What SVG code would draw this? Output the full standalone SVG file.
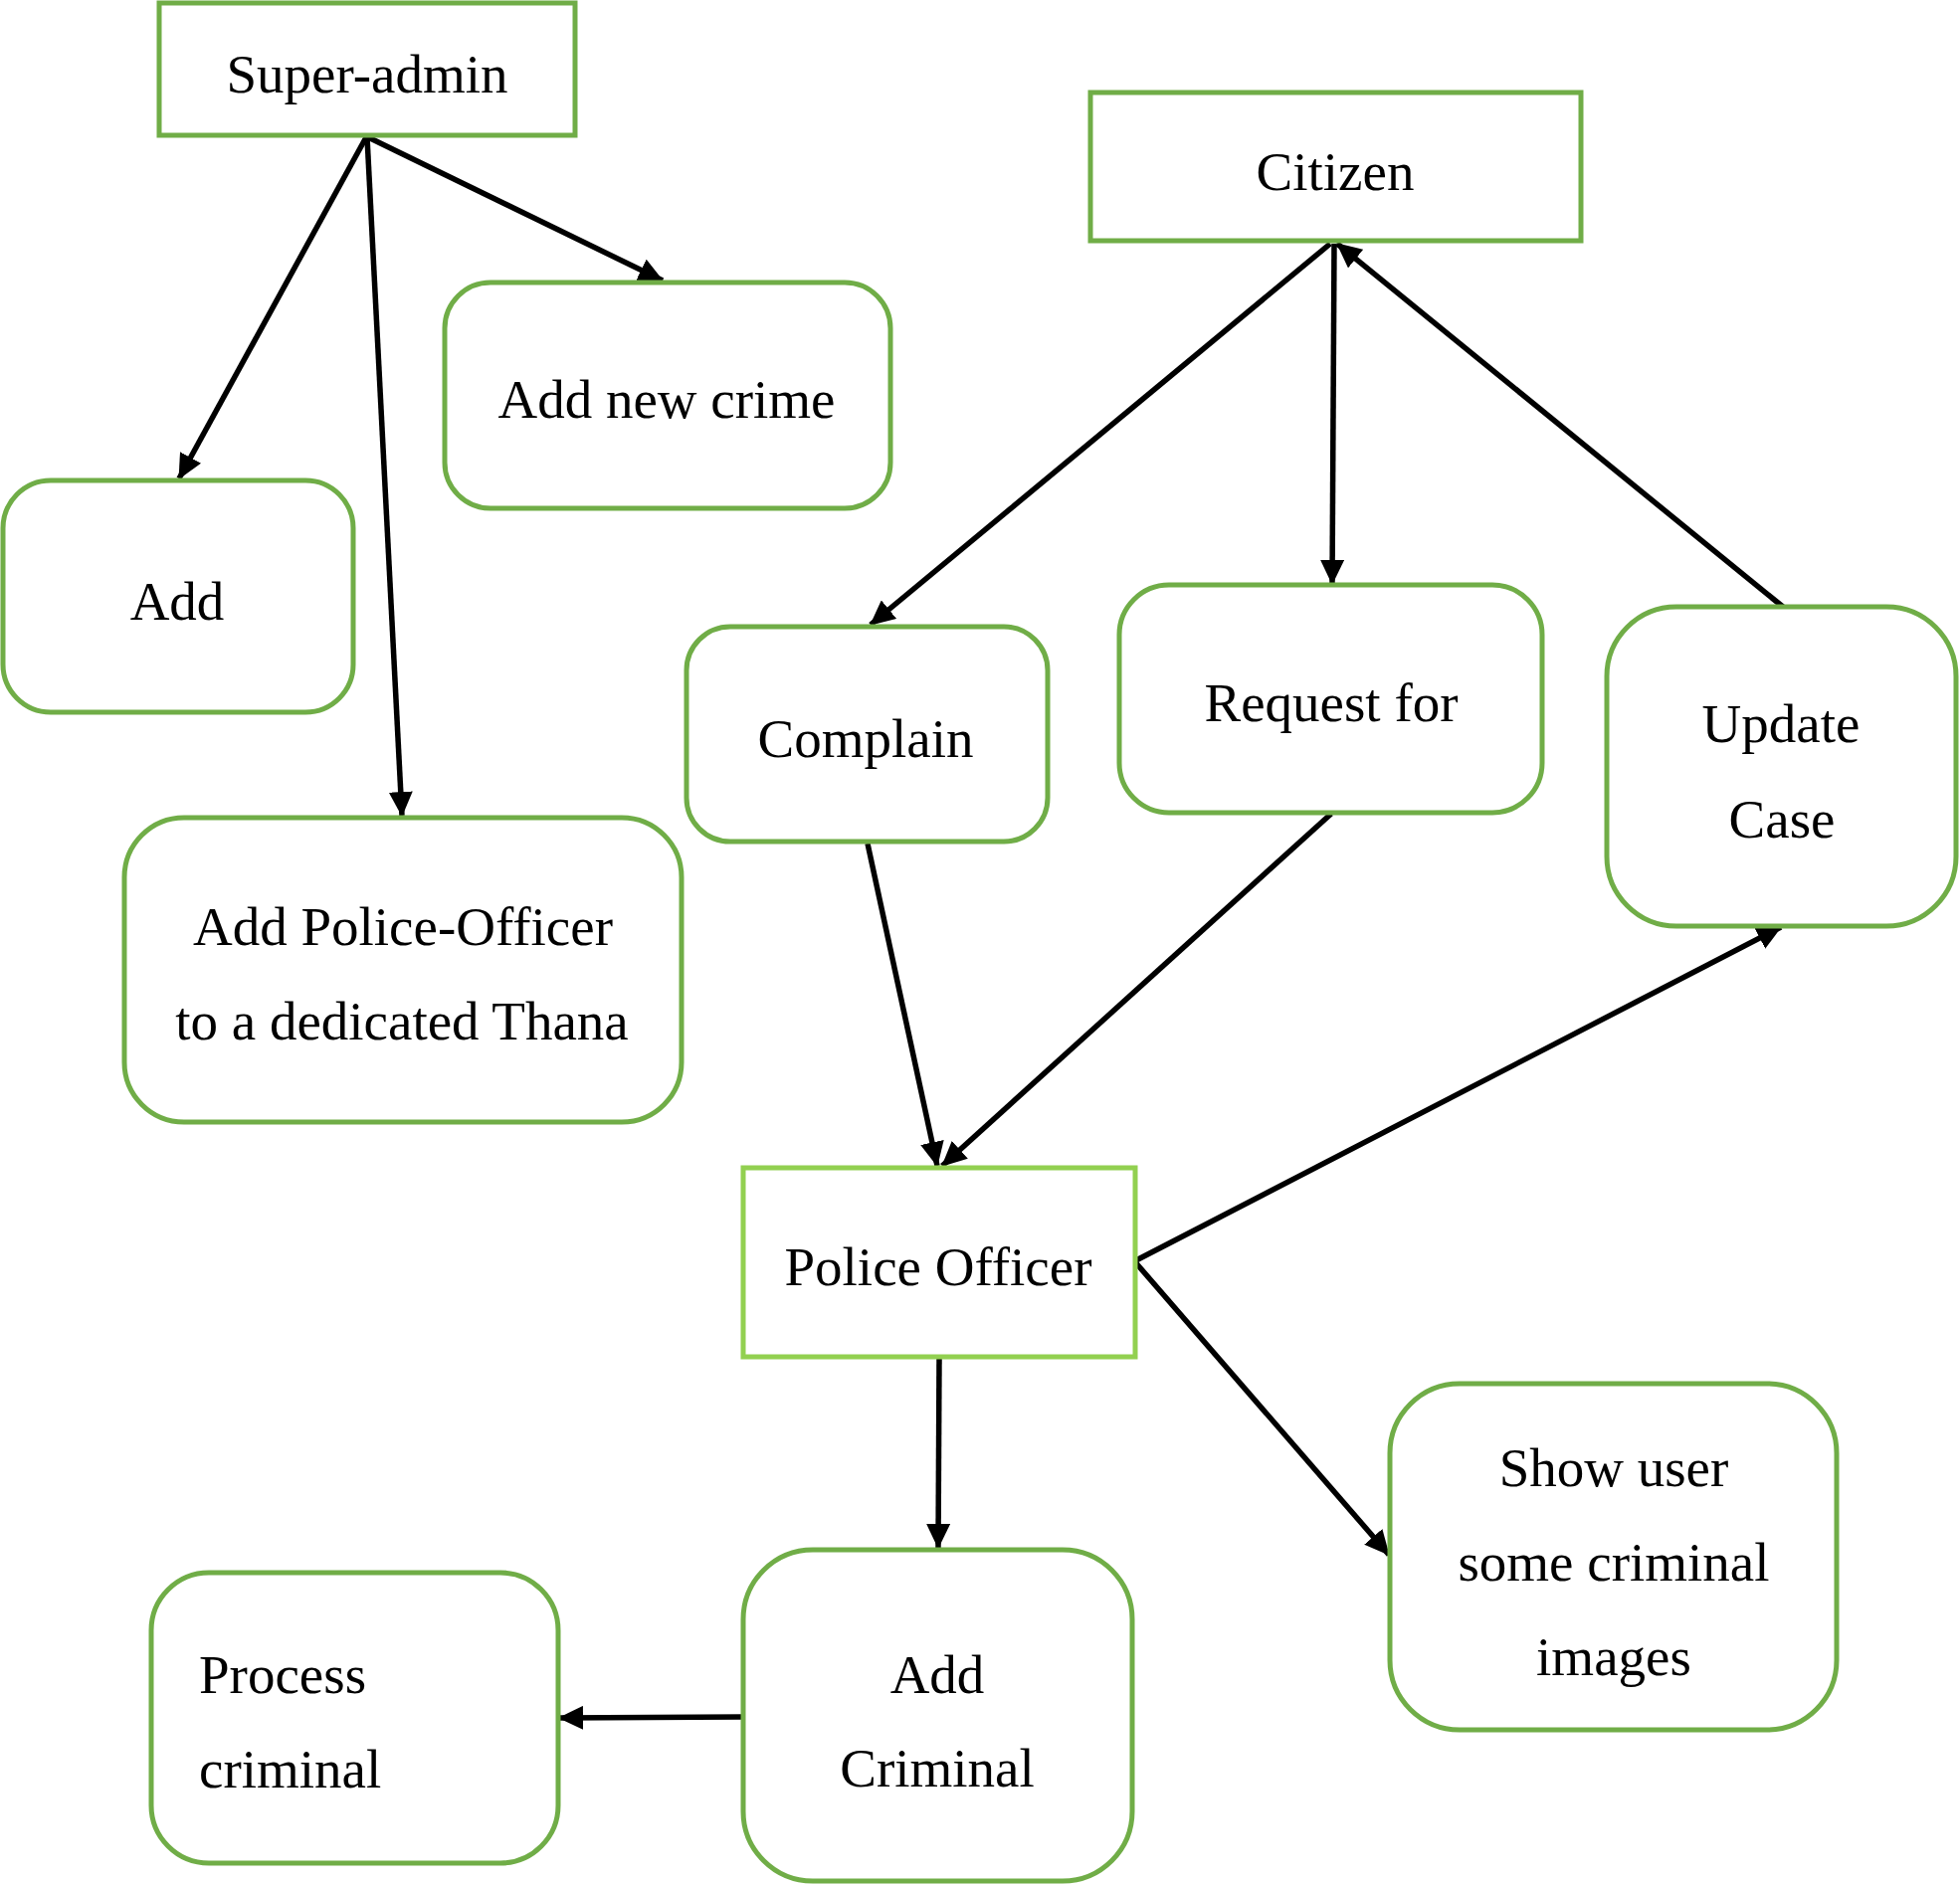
<svg xmlns="http://www.w3.org/2000/svg" width="1970" height="1896" viewBox="0 0 1970 1896">
<style>
.box{fill:#fff;stroke:#70AD47;stroke-width:5}
.po{fill:#fff;stroke:#92D050;stroke-width:5}
.t{font-family:"Liberation Serif","Times New Roman",serif;font-size:55px;fill:#000;text-anchor:middle}
.tl{font-family:"Liberation Serif","Times New Roman",serif;font-size:55px;fill:#000}
.c{stroke:#000;stroke-width:5.5;fill:none;marker-end:url(#ah)}
</style>
<defs>
<marker id="ah" markerUnits="userSpaceOnUse" markerWidth="25" markerHeight="24" viewBox="0 0 25 24" refX="24" refY="12" orient="auto">
<path d="M0,0 L25,12 L0,24 z" fill="#000"/>
</marker>
</defs>
<rect width="1970" height="1896" fill="#fff"/>
<g id="connectors">
<line class="c" x1="368" y1="138" x2="180" y2="481"/>
<line class="c" x1="369" y1="138" x2="404" y2="820"/>
<line class="c" x1="370" y1="138" x2="666" y2="282"/>
<line class="c" x1="1337" y1="245" x2="875" y2="628"/>
<line class="c" x1="1341" y1="245" x2="1339" y2="587"/>
<line class="c" x1="1792" y1="610" x2="1344" y2="245"/>
<line class="c" x1="872" y1="848" x2="942" y2="1172"/>
<line class="c" x1="1338" y1="818" x2="947" y2="1172"/>
<line class="c" x1="1142" y1="1267" x2="1790" y2="932"/>
<line class="c" x1="1142" y1="1270" x2="1396" y2="1563"/>
<line class="c" x1="944" y1="1366" x2="943" y2="1556"/>
<line class="c" x1="747" y1="1726" x2="562" y2="1727"/>
</g>
<g id="super-admin">
<rect class="box" x="160" y="3" width="418" height="133"/>
<text class="t" x="369" y="93">Super-admin</text>
</g>
<g id="citizen">
<rect class="box" x="1096" y="93" width="493" height="149"/>
<text class="t" x="1342" y="191">Citizen</text>
</g>
<g id="add-new-crime">
<rect class="box" x="447" y="284" width="448" height="227" rx="46"/>
<text class="t" x="670" y="420">Add new crime</text>
</g>
<g id="add">
<rect class="box" x="3" y="483" width="352" height="233" rx="48"/>
<text class="t" x="178" y="623">Add</text>
</g>
<g id="add-police-officer">
<rect class="box" x="125" y="822" width="560" height="306" rx="60"/>
<text class="t" x="405" y="950">Add Police-Officer</text>
<text class="t" x="404" y="1045">to a dedicated Thana</text>
</g>
<g id="complain">
<rect class="box" x="690" y="630" width="363" height="216" rx="44"/>
<text class="t" x="870" y="761">Complain</text>
</g>
<g id="request-for">
<rect class="box" x="1125" y="588" width="425" height="229" rx="50"/>
<text class="t" x="1338" y="725">Request for</text>
</g>
<g id="update-case">
<rect class="box" x="1615" y="610" width="351" height="321" rx="70"/>
<text class="t" x="1790" y="746">Update</text>
<text class="t" x="1791" y="842">Case</text>
</g>
<g id="police-officer">
<rect class="po" x="747" y="1174" width="394" height="190"/>
<text class="t" x="943" y="1292">Police Officer</text>
</g>
<g id="show-user">
<rect class="box" x="1397" y="1391" width="449" height="348" rx="70"/>
<text class="t" x="1622" y="1494">Show user</text>
<text class="t" x="1622" y="1589">some criminal</text>
<text class="t" x="1622" y="1684">images</text>
</g>
<g id="add-criminal">
<rect class="box" x="747" y="1558" width="391" height="333" rx="70"/>
<text class="t" x="942" y="1702">Add</text>
<text class="t" x="942" y="1796">Criminal</text>
</g>
<g id="process-criminal">
<rect class="box" x="152" y="1581" width="409" height="292" rx="58"/>
<text class="tl" x="200" y="1702">Process</text>
<text class="tl" x="200" y="1797">criminal</text>
</g>
</svg>
